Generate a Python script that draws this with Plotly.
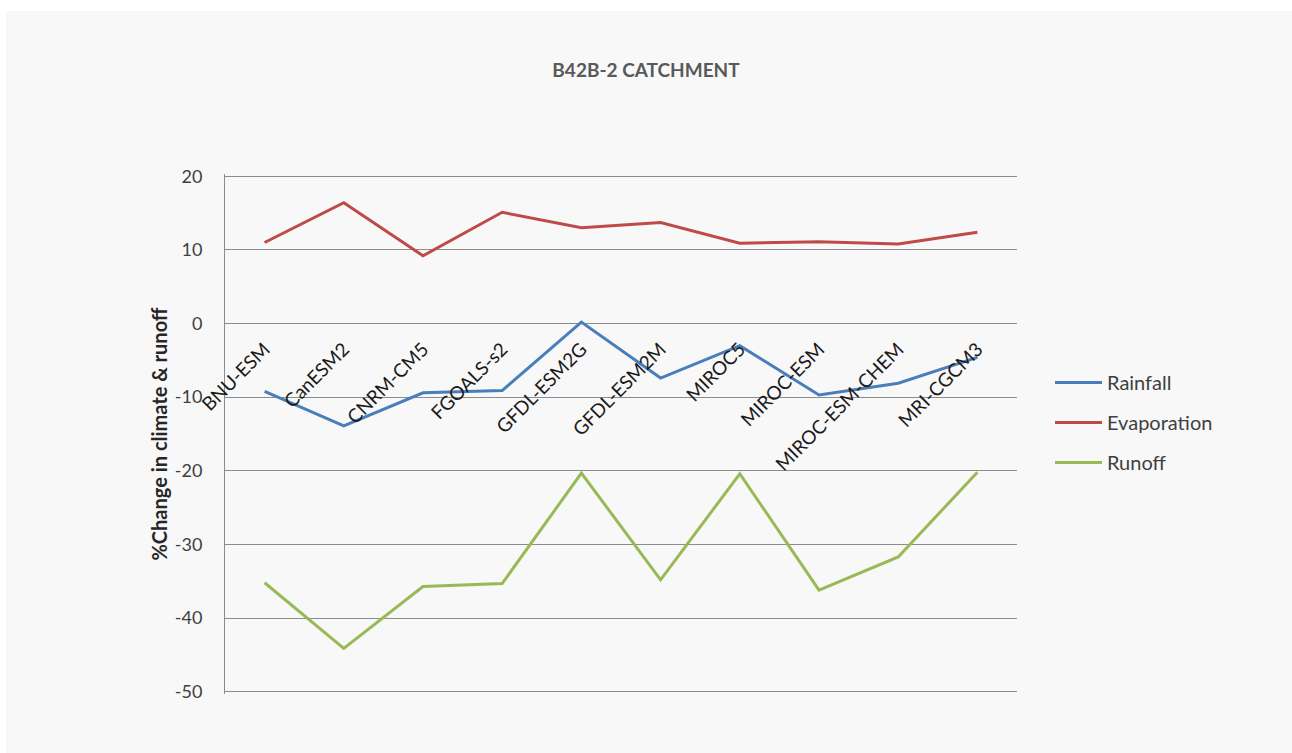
import plotly.graph_objects as go

models = ["BNU-ESM", "CanESM2", "CNRM-CM5", "FGOALS-s2", "GFDL-ESM2G",
          "GFDL-ESM2M", "MIROC5", "MIROC-ESM", "MIROC-ESM-CHEM", "MRI-CGCM3"]
rainfall = [-9.2, -13.9, -9.4, -9.1, 0.2, -7.4, -3.0, -9.7, -8.1, -4.6]
evaporation = [11.0, 16.4, 9.2, 15.1, 13.0, 13.7, 10.9, 11.1, 10.8, 12.4]
runoff = [-35.2, -44.1, -35.7, -35.3, -20.3, -34.8, -20.4, -36.2, -31.7, -20.2]

y_tick_vals = [20, 10, 0, -10, -20, -30, -40, -50]
y_tick_text = ["20", "10", "0", "-10", "-20", "-30", "-40", "-50"]

series = [("Rainfall", rainfall, "#4a7ebb"),
          ("Evaporation", evaporation, "#be4b48"),
          ("Runoff", runoff, "#98b954")]

fig = go.Figure()
for name, vals, col in series:
    fig.add_trace(go.Scatter(x=models, y=vals, name=name, mode="lines",
                             line=dict(color=col, width=3),
                             legendgroup=name))

W, H = 1292, 753
ml, mr, mt, mb = 225, 275, 174, 59
pw, ph = W - ml - mr, H - mt - mb
ymin, ymax = -50.3, 20.3

def px2paper_x(px):
    return (px - ml) / pw

def py2paper_y(py):
    return (H - mb - py) / ph

fig.update_layout(
    width=W, height=H,
    margin=dict(l=ml, r=mr, t=mt, b=mb, autoexpand=False),
    paper_bgcolor="white",
    plot_bgcolor="#f8f8f8",
    font=dict(family="Lato, Open Sans, sans-serif", color="#404040"),
    title=dict(text="<b>B42B-2 CATCHMENT</b>", x=0.5, xref="container",
               xanchor="center", y=1 - 70 / H, yref="container", yanchor="middle",
               font=dict(size=19, color="#595959", family="Lato, sans-serif")),
    showlegend=True,
    legend=dict(x=px2paper_x(1050), xanchor="left", y=py2paper_y(363), yanchor="top",
                bgcolor="rgba(0,0,0,0)", font=dict(size=20, color="#404040"),
                traceorder="grouped", tracegroupgap=11, itemwidth=47),
    shapes=[dict(type="rect", xref="paper", yref="paper", layer="below",
                 x0=px2paper_x(6), x1=px2paper_x(1292),
                 y0=py2paper_y(753), y1=py2paper_y(11),
                 fillcolor="#f8f8f8", line=dict(width=0))],
)

fig.update_xaxes(type="category", range=[-0.5, len(models) - 0.5],
                 anchor="free", position=(0 - ymin) / (ymax - ymin),
                 showgrid=False, showline=False, zeroline=False, ticks="",
                 tickangle=-45, ticklabelstandoff=10,
                 tickfont=dict(size=19, color="#1a1a1a"))

fig.update_yaxes(range=[ymin, ymax], tickvals=y_tick_vals, ticktext=y_tick_text,
                 showgrid=True, gridcolor="#8c8c8c", gridwidth=1,
                 zeroline=False, showline=True, linecolor="#8c8c8c", linewidth=1,
                 ticks="", ticklabelstandoff=18,
                 tickfont=dict(size=18, color="#404040"),
                 title=dict(text="<b>%Change in climate & runoff</b>",
                            font=dict(size=20, color="#262626"), standoff=1))

fig.write_html("out.html")
